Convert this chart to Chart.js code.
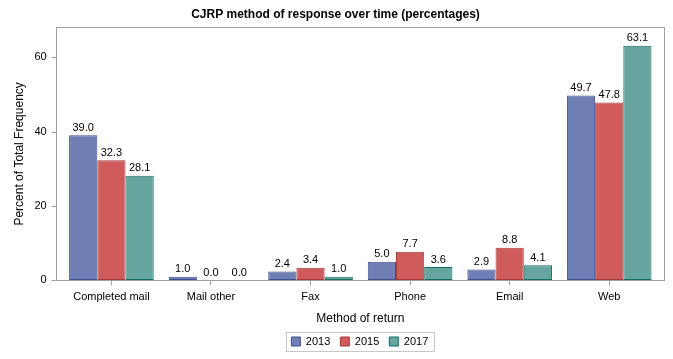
<!DOCTYPE html>
<html>
<head>
<meta charset="utf-8">
<script src="https://cdn.jsdelivr.net/npm/chart.js@4/dist/chart.umd.min.js"></script>
<style>
  html, body { margin: 0; padding: 0; background: #fff; }
  #wrap { width: 673px; height: 359px; }
</style>
</head>
<body>
<div id="wrap"><canvas id="c"></canvas></div>
<script>
const categories = ['Completed mail', 'Mail other', 'Fax', 'Phone', 'Email', 'Web'];
const years = ['2013', '2015', '2017'];
const values2013 = [39.0, 1.0, 2.4, 5.0, 2.9, 49.7];
const values2015 = [32.3, 0.0, 3.4, 7.7, 8.8, 47.8];
const values2017 = [28.1, 0.0, 1.0, 3.6, 4.1, 63.1];
const yTicks = [0, 20, 40, 60];

const fills = ['#6F7EB3', '#D05B5B', '#66A5A0'];
const edges = ['#3F4F8F', '#A33A3A', '#106B62'];
const font = "'Liberation Sans', Arial, sans-serif";

// the frame sits a little outside the category band, as in the original
const padL = 6, padR = 5;

const frame = {
    id: 'frame',
    afterLayout: function(chart) {
        // centre the legend under the plot frame rather than the whole canvas
        const lg = chart.legend;
        const a = chart.chartArea;
        const mid = (a.left - padL + a.right + padR) / 2;
        const dx = mid - (lg.left + lg.right) / 2;
        lg.left += dx; lg.right += dx;
        (lg.legendHitBoxes || []).forEach(function(h) { h.left += dx; });
    },
    afterDraw: function(chart) {
        const a = chart.chartArea;
        const ctx = chart.ctx;
        const l = Math.round(a.left - padL) + 0.5;
        const r = Math.round(a.right + padR) + 0.5;
        const t = Math.round(a.top) + 0.5;
        const b = Math.round(a.bottom) + 0.5;
        ctx.save();
        ctx.strokeStyle = '#A0A0A0';
        ctx.lineWidth = 1;
        ctx.strokeRect(l, t, r - l, b - t);
        // y tick marks on the frame
        const ys = chart.scales.y;
        ctx.beginPath();
        yTicks.forEach(function(v) {
            const y = Math.round(ys.getPixelForValue(v)) + 0.5;
            ctx.moveTo(l - 5, y);
            ctx.lineTo(l, y);
        });
        ctx.stroke();
        // box round the legend items only
        const boxes = chart.legend.legendHitBoxes;
        if (boxes && boxes.length) {
            let bl = Infinity, br = -Infinity, bt = Infinity, bb = -Infinity;
            boxes.forEach(function(h) {
                bl = Math.min(bl, h.left); br = Math.max(br, h.left + h.width);
                bt = Math.min(bt, h.top); bb = Math.max(bb, h.top + h.height);
            });
            ctx.strokeStyle = '#C8C8C8';
            ctx.strokeRect(Math.round(bl - 5) + 0.5, Math.round(bt - 4) + 0.5,
                Math.round(br - bl + 11), Math.round(bb - bt + 8));
        }
        ctx.restore();
    }
};

const labels = {
    id: 'barLabels',
    afterDatasetsDraw: function(chart) {
        const ctx = chart.ctx;
        ctx.save();
        ctx.font = '11px ' + font;
        ctx.fillStyle = '#000';
        ctx.textAlign = 'center';
        ctx.textBaseline = 'bottom';
        chart.data.datasets.forEach(function(ds, i) {
            chart.getDatasetMeta(i).data.forEach(function(bar, j) {
                ctx.fillText(ds.data[j].toFixed(1), bar.x, bar.y - 2);
            });
        });
        ctx.restore();
    }
};

const series = [values2013, values2015, values2017];
const datasets = series.map(function(vals, i) {
    return {
        label: years[i],
        data: vals,
        backgroundColor: fills[i],
        borderColor: edges[i],
        borderWidth: 1,
        borderSkipped: false,
        categoryPercentage: 0.85,
        barPercentage: 1.0
    };
});

new Chart(document.getElementById('c'), {
    type: 'bar',
    data: { labels: categories, datasets: datasets },
    options: {
        responsive: true,
        maintainAspectRatio: false,
        animation: false,
        layout: { padding: { left: 12, right: 14, top: 3, bottom: 2 } },
        scales: {
            x: {
                grid: { display: true, drawOnChartArea: false, offset: false, tickLength: 5, color: '#A0A0A0' },
                border: { display: false },
                ticks: { color: '#000', font: { family: font, size: 11 }, padding: 5, maxRotation: 0 },
                title: { display: true, text: 'Method of return', color: '#000', font: { family: font, size: 12 }, padding: { top: 3, bottom: 0 } }
            },
            y: {
                min: 0,
                max: 68,
                afterBuildTicks: function(axis) {
                    axis.ticks = yTicks.map(function(v) { return { value: v }; });
                },
                grid: { display: true, drawOnChartArea: false, tickLength: 11, color: 'rgba(0,0,0,0)' },
                border: { display: false },
                ticks: { color: '#000', font: { family: font, size: 11 }, padding: 4 },
                title: { display: true, text: 'Percent of Total Frequency', color: '#000', font: { family: font, size: 12 }, padding: { top: 0, bottom: 4 } }
            }
        },
        plugins: {
            title: {
                display: true,
                text: 'CJRP method of response over time (percentages)',
                color: '#000',
                font: { family: font, size: 12, weight: 'bold' },
                padding: { top: 4, bottom: 6 }
            },
            legend: {
                position: 'bottom',
                labels: {
                    color: '#000',
                    font: { family: font, size: 11 },
                    boxWidth: 9,
                    boxHeight: 9,
                    padding: 10
                }
            },
            tooltip: { enabled: false }
        }
    },
    plugins: [frame, labels]
});
</script>
</body>
</html>
